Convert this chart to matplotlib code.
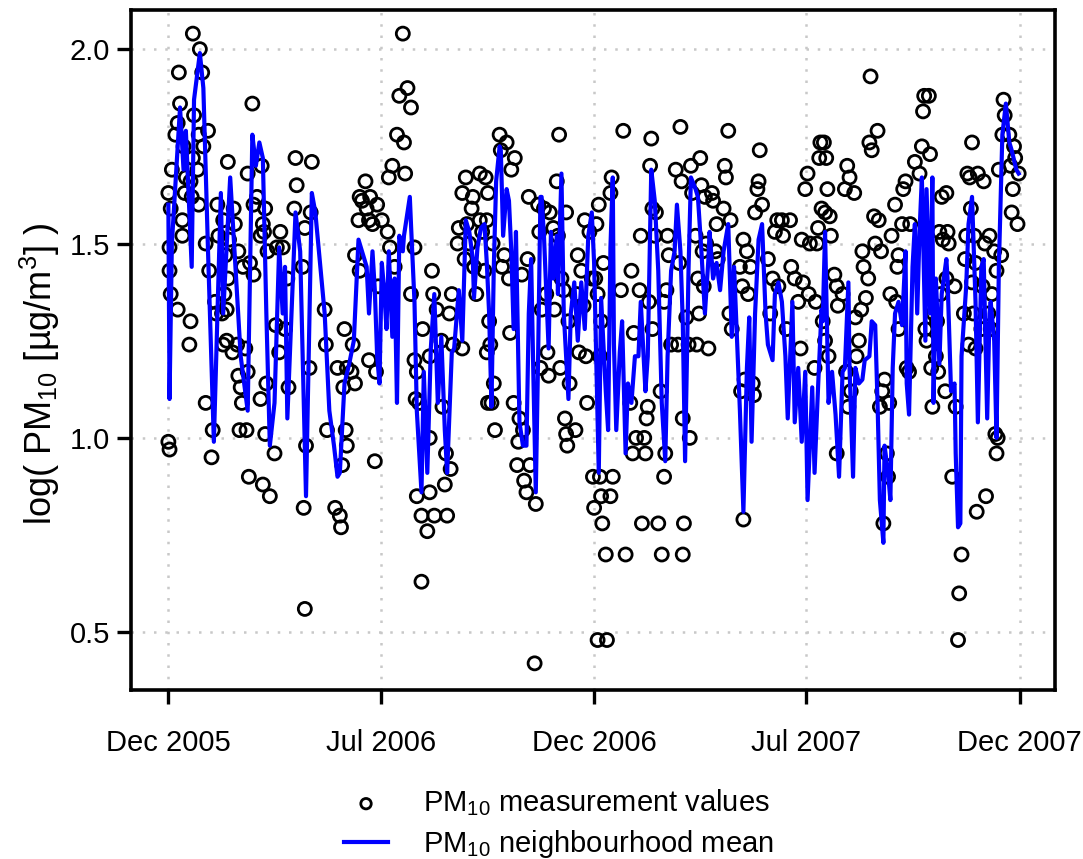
import numpy as np
import pandas as pd
import matplotlib
matplotlib.use("Agg")
import matplotlib.pyplot as plt
import matplotlib.dates as mdates

plt.rcParams['font.family'] = ['Liberation Sans', 'DejaVu Sans']
plt.rcParams['mathtext.fontset'] = 'custom'
plt.rcParams['mathtext.rm'] = 'Liberation Sans'
plt.rcParams['mathtext.it'] = 'Liberation Sans:italic'
plt.rcParams['mathtext.bf'] = 'Liberation Sans:bold'

# days counted from 2005-12-31, values are log10(PM10)
mean_days = [0, 1, 3, 10, 13, 15, 20, 22, 27, 30, 34, 39, 45, 47, 53, 62, 68, 72, 75, 78, 81,
             84, 87, 91, 95, 98, 100, 102, 109, 113, 118, 123, 126, 134, 138, 142, 145, 147, 151,
             155, 159, 163, 166, 170, 172, 175,
             177, 179, 181, 183, 185, 187, 189, 192, 194, 196, 198, 201, 202, 207, 208, 211, 213,
             217, 219, 222, 225, 228, 231, 234, 237, 239, 243, 245, 249, 252, 255, 258, 261, 262,
             265, 268, 271,
             273, 275, 277, 279, 281, 284, 285, 287, 290, 292, 294, 296, 298, 301, 304, 307, 309,
             311, 313, 315, 317, 319, 320, 322, 326, 328, 330, 333, 334, 337, 339, 343, 345, 348,
             351, 354, 357, 360, 363, 365, 369,
             371, 375, 377, 379, 381, 382, 384, 387, 389, 392, 394, 397, 400, 403, 405, 409, 411,
             414, 417, 420, 423, 426, 428, 431, 434, 436, 439, 441, 443, 446, 448, 452, 454, 457,
             460, 463,
             464, 467, 470, 473, 476, 480, 483, 485, 488, 490, 493, 496, 498, 500, 503, 506, 509,
             512, 514, 518, 520, 523, 526, 529, 531, 535, 537, 540, 543, 546, 548, 552, 554, 557, 560,
             561, 563, 566, 569, 572, 575, 578, 580, 583, 584, 587, 589, 592, 595, 597, 601, 603,
             606, 608, 610, 613, 614, 617, 619, 621, 623, 626, 629, 632, 633, 635, 638, 640, 642,
             644, 646, 649, 650, 653, 655, 656,
             658, 661, 663, 667, 668, 671, 674, 675, 677, 679, 680, 684, 686, 689, 692, 694, 697,
             699, 702, 704, 705, 708, 710, 712, 715, 718, 721, 723, 727, 729]
mean_vals = [1.60, 1.10, 1.50, 1.85, 1.69, 1.79, 1.44, 1.87, 1.99, 1.90, 1.48, 0.99, 1.63, 1.32,
             1.67, 1.21, 1.07, 1.78, 1.70, 1.76, 1.72,
             1.32, 0.98, 1.09, 1.49, 1.32, 1.44, 1.05, 1.58, 1.48, 0.85, 1.63, 1.58, 1.32, 1.07,
             0.98, 0.90, 0.91, 1.14, 1.19, 1.25, 1.51, 1.48, 1.44, 1.32, 1.48,
             1.38, 1.21, 1.14, 1.45, 1.38, 1.28, 1.48, 1.26, 1.41, 1.09, 1.52, 1.48, 1.52, 1.62,
             1.55, 1.35, 1.07, 0.86, 1.17, 0.91, 1.23, 1.37, 1.09, 1.26, 1.02, 0.91, 1.22, 1.23,
             1.38, 1.25, 1.56, 1.53, 1.46, 1.36, 1.49, 1.54, 1.55,
             1.45, 1.32, 1.08, 1.44, 1.66, 1.75, 1.74, 1.52, 1.64, 1.61, 1.48, 1.28, 1.53, 1.04,
             0.98, 0.98, 1.32, 1.46, 1.15, 0.86, 1.21, 1.62, 1.62, 1.52, 1.23, 1.53, 1.41, 1.52,
             1.37, 1.68, 1.32, 1.10, 1.32, 1.40, 1.25, 1.40, 1.28, 1.52, 1.58, 1.45, 0.91,
             1.36, 1.12, 1.02, 1.49, 1.67, 1.24, 1.02, 1.22, 1.30, 0.96, 1.14, 1.09, 1.21, 1.21,
             1.35, 1.12, 1.21, 1.69, 1.61, 1.43, 1.09, 0.94, 1.21, 1.43, 1.48, 1.60, 1.48, 1.30,
             0.94, 1.44, 1.67, 1.64, 1.62, 1.48, 1.32, 1.46,
             1.53, 1.41, 1.45, 1.38, 1.48, 1.55, 1.26, 1.44, 1.22, 1.07, 0.81, 1.18, 1.31, 0.99,
             1.32, 1.51, 1.55, 1.32, 1.24, 1.20, 1.37, 1.40, 1.35, 1.21, 1.05, 1.35, 1.04, 1.18,
             0.99, 1.17, 0.84, 1.13, 0.91, 1.13, 1.33,
             1.30, 1.53, 1.09, 1.17, 1.06, 0.90, 1.17, 1.18, 1.40, 1.18, 0.90, 1.18, 1.14, 1.15,
             1.20, 1.21, 1.30, 1.29, 1.09, 0.84, 0.73, 0.98, 0.91, 0.84, 1.18, 1.32, 1.35, 1.29,
             1.48, 1.14, 1.06, 1.44, 1.55, 1.32, 1.53, 1.67, 1.25, 1.64, 1.32, 1.67, 1.09,
             1.41, 1.19, 1.37, 1.46, 1.41, 1.12, 1.14, 0.96, 0.77, 0.78, 1.21, 1.39, 1.55, 1.62,
             1.35, 1.04, 1.44, 1.46, 1.05, 1.32, 1.35, 1.25, 1.00, 1.44, 1.78, 1.86, 1.76, 1.74,
             1.69, 1.68]

# measurement values as (day, value)
meas_h1_2006 = [(21, 2.04), (27, 2.00), (9, 1.94), (29, 1.94), (10, 1.86), (72, 1.86), (8, 1.81),
                (22, 1.83), (26, 1.78), (34, 1.79), (6, 1.78), (30, 1.75), (13, 1.75), (21, 1.72),
                (51, 1.71), (3, 1.69), (25, 1.69), (68, 1.68), (15, 1.67), (19, 1.66), (0, 1.63),
                (14, 1.63), (26, 1.60), (20, 1.62), (42, 1.60), (56, 1.59), (73, 1.60), (2, 1.59),
                (12, 1.56), (47, 1.56), (57, 1.55), (81, 1.55), (79, 1.52), (12, 1.52), (32, 1.50),
                (1, 1.49), (43, 1.52), (52, 1.51), (49, 1.47), (60, 1.48), (70, 1.45), (64, 1.44),
                (73, 1.42), (1, 1.43), (35, 1.43), (2, 1.37), (51, 1.41), (48, 1.37), (8, 1.33),
                (40, 1.35), (41, 1.32), (46, 1.32), (50, 1.33), (19, 1.30), (18, 1.24), (50, 1.25),
                (47, 1.24), (59, 1.24), (55, 1.22), (66, 1.23), (60, 1.16), (62, 1.13), (68, 1.17),
                (32, 1.09), (63, 1.09), (38, 1.02), (61, 1.02), (67, 1.02), (0, 0.99), (1, 0.97),
                (37, 0.95), (69, 0.90), (81, 0.88), (79, 1.10), (76, 1.62),
                (80, 1.70), (83, 1.59), (82, 1.53), (85, 1.48), (109, 1.72), (123, 1.71), (110, 1.65),
                (108, 1.59), (122, 1.58), (117, 1.54), (96, 1.53), (98, 1.49), (93, 1.49), (115, 1.44),
                (102, 1.41), (134, 1.33), (92, 1.29), (100, 1.28), (151, 1.28), (95, 1.22),
                (135, 1.24), (158, 1.24), (121, 1.18), (145, 1.18), (153, 1.18), (157, 1.17),
                (160, 1.14), (172, 1.20), (150, 1.13), (84, 1.14), (103, 1.13), (83, 1.01),
                (136, 1.02), (152, 1.02), (153, 0.98), (118, 0.98), (91, 0.96), (149, 0.93),
                (177, 0.94), (87, 0.85), (116, 0.82), (143, 0.82), (147, 0.80), (148, 0.77),
                (117, 0.56), (169, 1.66), (164, 1.62), (166, 1.61), (170, 1.59), (172, 1.56),
                (163, 1.56), (160, 1.47), (164, 1.43), (173, 1.62), (175, 1.55)]

meas_h2_2006 = [(201, 2.04), (205, 1.90), (198, 1.88), (208, 1.85), (196, 1.78), (202, 1.76),
                (192, 1.70), (189, 1.67), (203, 1.68), (179, 1.60), (183, 1.56), (188, 1.53),
                (190, 1.49), (211, 1.49), (194, 1.44), (180, 1.39), (226, 1.43), (208, 1.37),
                (227, 1.37), (230, 1.33), (243, 1.37), (218, 1.28), (241, 1.32), (234, 1.25),
                (244, 1.24), (252, 1.23), (178, 1.17), (211, 1.20), (213, 1.17), (224, 1.21),
                (212, 1.10), (215, 1.09), (235, 1.08), (224, 1.00), (238, 0.96), (242, 0.92),
                (213, 0.85), (224, 0.86), (237, 0.88), (217, 0.80), (228, 0.80), (239, 0.80),
                (222, 0.76), (217, 0.63), (255, 1.67), (267, 1.68), (252, 1.63), (261, 1.62),
                (260, 1.59), (249, 1.54), (256, 1.55), (267, 1.56), (248, 1.50), (258, 1.50),
                (269, 1.53), (262, 1.44), (271, 1.43), (264, 1.37), (254, 1.46), (273, 1.22),
                (274, 1.09),
                (284, 1.78), (290, 1.76), (285, 1.74), (297, 1.72), (294, 1.69), (335, 1.78),
                (333, 1.66), (272, 1.67), (274, 1.63), (309, 1.62), (317, 1.60), (322, 1.59),
                (327, 1.58), (341, 1.58), (273, 1.56), (318, 1.53), (330, 1.54), (334, 1.52),
                (357, 1.56), (361, 1.53), (367, 1.55), (278, 1.50), (288, 1.47), (286, 1.44),
                (292, 1.41), (308, 1.46), (303, 1.42), (351, 1.47), (354, 1.43), (363, 1.41),
                (366, 1.41), (337, 1.41), (324, 1.37), (339, 1.38), (350, 1.37), (356, 1.34),
                (275, 1.30), (320, 1.33), (331, 1.33), (343, 1.30), (293, 1.27), (276, 1.24),
                (325, 1.22), (319, 1.18), (326, 1.16), (336, 1.18), (344, 1.14), (352, 1.22),
                (358, 1.21), (279, 1.14), (277, 1.09), (296, 1.09), (359, 1.09), (280, 1.02),
                (301, 1.05), (304, 1.02), (340, 1.05), (341, 1.01), (349, 1.02), (300, 0.99),
                (342, 0.98), (299, 0.93), (310, 0.93), (305, 0.89), (307, 0.86), (315, 0.83),
                (314, 0.42), (364, 0.90), (365, 0.82)]

meas_h1_2007 = [(368, 0.48), (376, 0.48), (390, 1.79), (414, 1.77), (439, 1.80), (456, 1.72),
                (448, 1.70), (435, 1.69), (440, 1.66), (380, 1.67), (379, 1.63), (413, 1.70),
                (457, 1.65), (460, 1.62), (449, 1.63), (369, 1.60), (415, 1.59), (418, 1.58),
                (405, 1.52), (417, 1.52), (428, 1.52), (452, 1.52), (461, 1.50), (458, 1.48),
                (373, 1.45), (429, 1.47), (397, 1.43), (438, 1.45), (388, 1.38), (404, 1.38),
                (427, 1.38), (412, 1.35), (425, 1.35), (368, 1.37), (454, 1.41), (459, 1.39),
                (444, 1.31), (455, 1.32), (399, 1.27), (415, 1.28), (431, 1.24), (437, 1.24),
                (446, 1.24), (453, 1.24), (371, 1.30), (370, 1.21), (422, 1.12), (396, 1.09),
                (411, 1.08), (410, 1.05), (441, 1.05), (401, 1.00), (408, 1.00), (447, 1.00),
                (398, 0.96), (409, 0.96), (426, 0.96), (425, 0.90), (370, 0.90), (381, 0.90),
                (371, 0.85), (379, 0.85), (372, 0.78), (406, 0.78), (420, 0.78), (442, 0.78),
                (375, 0.70), (392, 0.70), (423, 0.70), (441, 0.70), (463, 1.23),
                (480, 1.79), (507, 1.74), (477, 1.70), (478, 1.67), (506, 1.66), (505, 1.64),
                (509, 1.60), (503, 1.58), (466, 1.63), (467, 1.61), (476, 1.59), (470, 1.55),
                (482, 1.56), (548, 1.68), (546, 1.64), (559, 1.76), (558, 1.72), (560, 1.59),
                (557, 1.54), (522, 1.56), (526, 1.56), (533, 1.56), (520, 1.53), (527, 1.52),
                (543, 1.51), (550, 1.50), (556, 1.50), (493, 1.51), (496, 1.48), (469, 1.48),
                (471, 1.46), (490, 1.44), (499, 1.44), (514, 1.46), (534, 1.44), (537, 1.41),
                (544, 1.40), (492, 1.39), (497, 1.37), (518, 1.41), (523, 1.39), (549, 1.37),
                (555, 1.35), (540, 1.35), (481, 1.32), (483, 1.28), (516, 1.32), (561, 1.30),
                (530, 1.28), (542, 1.23), (554, 1.18), (494, 1.15), (501, 1.14), (491, 1.12),
                (502, 1.11), (493, 0.79)]

meas_h2_2007 = [(602, 1.93), (648, 1.88), (652, 1.88), (647, 1.84), (608, 1.79), (601, 1.76),
                (603, 1.74), (562, 1.76), (564, 1.72), (646, 1.75), (653, 1.73), (640, 1.71),
                (644, 1.68), (582, 1.70), (584, 1.67), (580, 1.64), (588, 1.63), (565, 1.64),
                (632, 1.66), (630, 1.64), (623, 1.60), (605, 1.57), (609, 1.56), (563, 1.58),
                (567, 1.57), (629, 1.55), (636, 1.55), (620, 1.52), (568, 1.52), (595, 1.48),
                (606, 1.50), (611, 1.48), (626, 1.47), (625, 1.44), (596, 1.44), (600, 1.41),
                (571, 1.42), (573, 1.39), (578, 1.37), (574, 1.34), (619, 1.37), (624, 1.35),
                (598, 1.36), (594, 1.33), (589, 1.31), (592, 1.25), (563, 1.25), (566, 1.21),
                (626, 1.28), (649, 1.28), (650, 1.25), (633, 1.18), (635, 1.17), (590, 1.21),
                (581, 1.17), (585, 1.12), (583, 1.08), (614, 1.15), (612, 1.12), (610, 1.08),
                (618, 1.09), (654, 1.18), (655, 1.08), (573, 0.96), (616, 0.96), (617, 0.90),
                (613, 0.78),
                (716, 1.87), (717, 1.83), (689, 1.76), (715, 1.78), (721, 1.78), (725, 1.75),
                (726, 1.72), (722, 1.70), (712, 1.69), (729, 1.68), (724, 1.64), (685, 1.68),
                (687, 1.67), (694, 1.68), (699, 1.66), (663, 1.62), (667, 1.63), (688, 1.59),
                (723, 1.58), (728, 1.55), (661, 1.53), (668, 1.53), (664, 1.51), (669, 1.50),
                (684, 1.52), (691, 1.52), (704, 1.52), (700, 1.50), (708, 1.48), (714, 1.47),
                (683, 1.46), (692, 1.45), (710, 1.43), (667, 1.41), (674, 1.39), (689, 1.40),
                (698, 1.39), (706, 1.37), (662, 1.37), (682, 1.32), (690, 1.32), (656, 1.32),
                (659, 1.30), (703, 1.32), (705, 1.28), (697, 1.28), (692, 1.23), (686, 1.24),
                (658, 1.21), (660, 1.17), (666, 1.12), (675, 1.08), (709, 1.01), (711, 1.00),
                (710, 0.96), (672, 0.90), (701, 0.85), (693, 0.81), (680, 0.70), (678, 0.60),
                (677, 0.48)]

tick_dates = ['2005-12-31', '2006-07-01', '2006-12-31', '2007-07-01', '2007-12-31']

start = pd.Timestamp('2005-12-31')


def to_dates(days):
    return start + pd.to_timedelta(np.asarray(days), unit='D')


meas = np.array(meas_h1_2006 + meas_h2_2006 + meas_h1_2007 + meas_h2_2007)

fig = plt.figure(figsize=(10.83, 8.59), dpi=100)
ax = fig.add_axes([0.121, 0.197, 0.853, 0.791])

ax.scatter(to_dates(meas[:, 0]), meas[:, 1], s=88, facecolors='none', edgecolors='black',
           linewidths=2.0, zorder=2, label='PM$_{10}$ measurement values')
ax.plot(to_dates(mean_days), mean_vals, color='#0000ff', lw=3.0, zorder=3,
        label='PM$_{10}$ neighbourhood mean')

ax.set_xlim(start - pd.Timedelta(days=32), start + pd.Timedelta(days=760))
ax.set_ylim(0.352, 2.10)
ax.set_xticks(pd.to_datetime(tick_dates))
ax.xaxis.set_major_formatter(mdates.DateFormatter('%b %Y'))
ax.set_yticks([0.5, 1.0, 1.5, 2.0])
ax.yaxis.set_major_formatter(matplotlib.ticker.FormatStrFormatter('%.1f'))

ax.grid(True, color='#c8c8c8', linestyle=(0, (1, 3.5)), linewidth=1.8, zorder=0)
ax.set_axisbelow(True)
for sp in ax.spines.values():
    sp.set_linewidth(2.6)
ax.tick_params(axis='both', direction='out', length=10, width=2.4, labelsize=21)
ax.tick_params(axis='x', pad=18)
ax.tick_params(axis='y', pad=5)

ax.set_ylabel('log( PM$_{10}$ [µg/m$^3$] )', fontsize=26)
ax.yaxis.set_label_coords(-0.075, 0.465)

h, l = ax.get_legend_handles_labels()
fig.legend(h, l, loc='upper left', bbox_to_anchor=(0.307, 0.097), frameon=False, fontsize=21,
           handlelength=1.5, handletextpad=1.2, labelspacing=0.35, markerscale=0.8,
           borderaxespad=0.0)

fig.savefig('out.png', dpi=100)
